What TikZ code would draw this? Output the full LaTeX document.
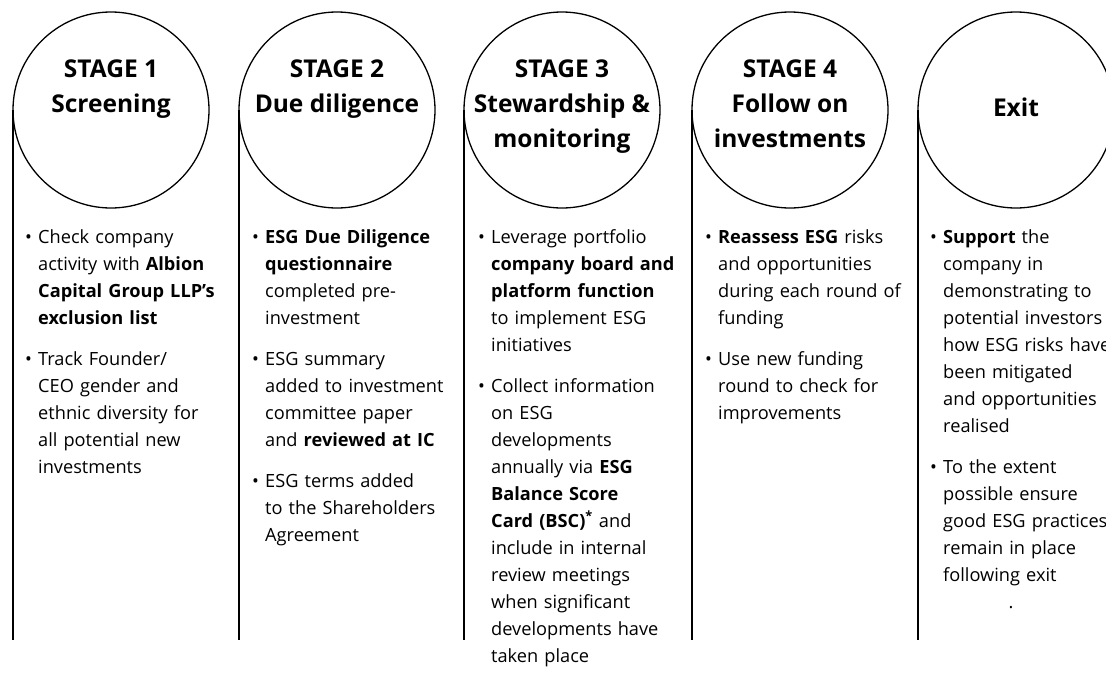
\documentclass[tikz,border=0pt]{standalone}
\usepackage{fontspec}
\setmainfont{Open Sans}
\usepackage{tikz}
\usetikzlibrary{positioning}

\newcommand{\itm}[1]{\noindent\makebox[13pt][l]{\textbullet}\parbox[t]{225pt}{\strut#1\strut}\par}

\begin{document}
\begin{tikzpicture}[x=1pt,y=-1pt]
  \tikzset{StageStyle/.style = {
    shape         = circle,
    draw          = black,
    line width    = 1.3pt,
    inner sep     = 0pt,
    outer sep     = 0pt,
    minimum size  = 196pt
    }
  }
  \tikzset{TitleStyle/.style = {
    anchor        = north,
    align         = center,
    inner sep     = 0pt,
    font          = \fontsize{24.5}{35}\selectfont\bfseries
    }
  }
  \tikzset{ListStyle/.style = {
    anchor        = north west,
    align         = left,
    text width    = 240pt,
    inner sep     = 0pt,
    font          = \fontsize{18.2}{27}\selectfont\setlength{\parskip}{13pt}
    }
  }
  \tikzset{StageLine/.style = {
    draw          = black,
    line width    = 1.3pt
    }
  }

	\clip (0,0) rectangle (1106,675);
	\coordinate (base) at (0,640);

	\node[StageStyle](S1) at (111,110) {};
	\node[StageStyle](S2) at (337,110) {};
	\node[StageStyle](S3) at (562,110) {};
	\node[StageStyle](S4) at (790,110) {};
	\node[StageStyle](S5) at (1016,110) {};

	\draw[StageLine](S1.west) to (S1.west |- base);
	\draw[StageLine](S2.west) to (S2.west |- base);
	\draw[StageLine](S3.west) to (S3.west |- base);
	\draw[StageLine](S4.west) to (S4.west |- base);
	\draw[StageLine](S5.west) to (S5.west |- base);

	\node[TitleStyle](T1) at (111,52.5) {\strut STAGE 1\\Screening};
	\node[TitleStyle](T2) at (337,52.5) {\strut STAGE 2\\Due diligence};
	\node[TitleStyle](T3) at (562,52.5) {\strut STAGE 3\\Stewardship \&\\monitoring};
	\node[TitleStyle](T4) at (790,52.5) {\strut STAGE 4\\Follow on\\investments};
	\node[TitleStyle](T5) at (1016,91.5) {\strut Exit};

	\node[ListStyle](L1) at (25,224) {%
	  \itm{Check company\\activity with \textbf{Albion}\\\textbf{Capital Group LLP’s}\\\textbf{exclusion list}}
	  \itm{Track Founder/\\CEO gender and\\ethnic diversity for\\all potential new\\investments}};
	\node[ListStyle](L2) at (252,224) {%
	  \itm{\textbf{ESG Due Diligence}\\\textbf{questionnaire}\\completed pre-\\investment}
	  \itm{ESG summary\\added to investment\\committee paper\\and \textbf{reviewed at IC}}
	  \itm{ESG terms added\\to the Shareholders\\Agreement}};
	\node[ListStyle](L3) at (478,224) {%
	  \itm{Leverage portfolio\\\textbf{company board and}\\\textbf{platform function}\\to implement ESG\\initiatives}
	  \itm{Collect information\\on ESG\\developments\\annually via \textbf{ESG}\\\textbf{Balance Score}\\\textbf{Card (BSC)\textsuperscript{*}} and\\include in internal\\review meetings\\when significant\\developments have\\taken place}};
	\node[ListStyle](L4) at (705,224) {%
	  \itm{\textbf{Reassess ESG} risks\\and opportunities\\during each round of\\funding}
	  \itm{Use new funding\\round to check for\\improvements}};
	\node[ListStyle](L5) at (930,224) {%
	  \itm{\textbf{Support} the\\company in\\demonstrating to\\potential investors\\how ESG risks have\\been mitigated\\and opportunities\\realised}
	  \itm{To the extent\\possible ensure\\good ESG practices\\remain in place\\following exit}};
	\node[font=\fontsize{18.2}{27}\selectfont, inner sep=0pt](D5) at (1011,608) {.};
\end{tikzpicture}
\end{document}
